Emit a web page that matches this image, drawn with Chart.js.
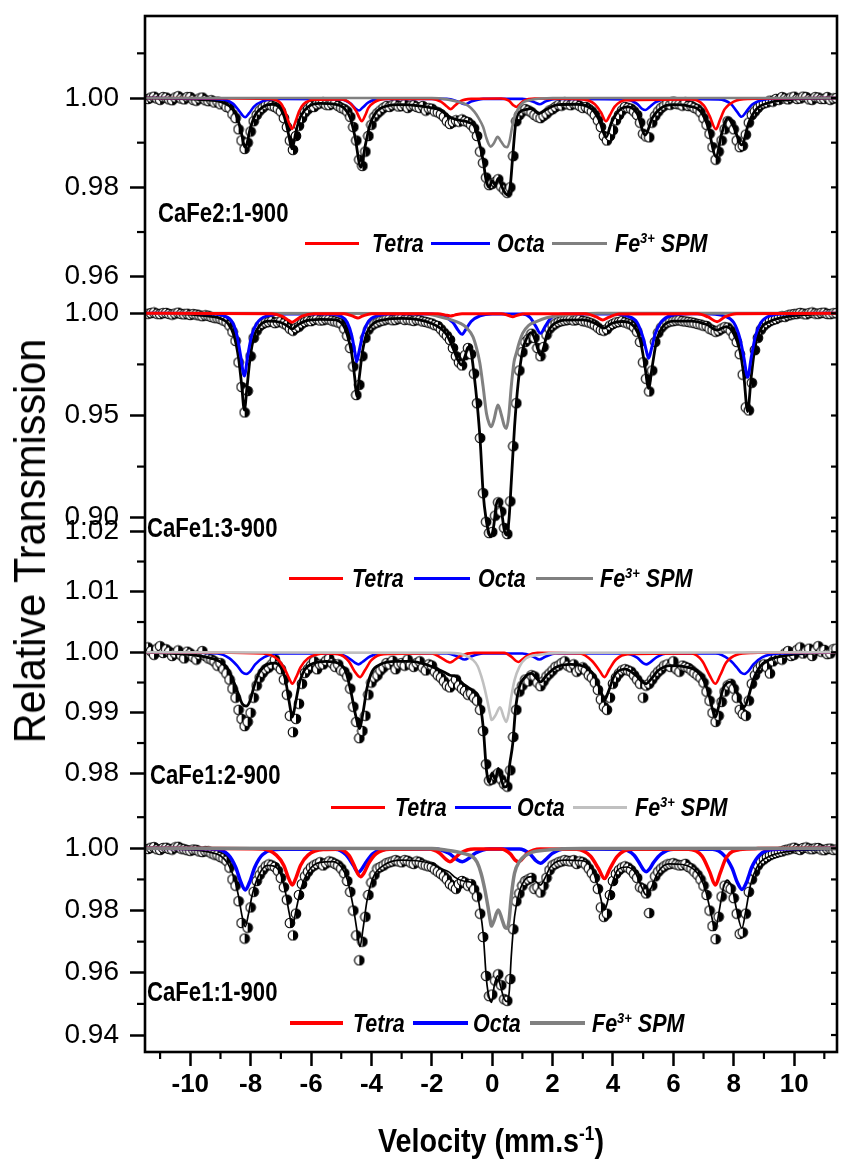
<!DOCTYPE html>
<html><head><meta charset="utf-8">
<script src="https://cdn.jsdelivr.net/npm/chart.js"></script>
<style>
html,body{margin:0;padding:0;background:#fff;}
#wrap{position:relative;width:843px;height:1169px;overflow:hidden;background:#fff;}
#c{position:absolute;left:0;top:0;}
.t{position:absolute;white-space:nowrap;font-family:'Liberation Sans',Arial,sans-serif;color:#000;line-height:1;}
.lab{font-weight:bold;font-size:27px;transform:scaleX(0.82);transform-origin:0 50%;}
.leg{font-weight:bold;font-style:italic;font-size:25px;transform:scaleX(0.86);transform-origin:0 50%;}
.ln{position:absolute;}
.sp{font-size:0.6em;position:relative;top:-0.6em;}
</style></head>
<body><div id="wrap"><canvas id="c" width="843" height="1169"></canvas></div>
<script>
// ---------------- DATA ----------------
const panelNames = ['CaFe2:1-900','CaFe1:3-900','CaFe1:2-900','CaFe1:1-900'];
const seriesNames = ['Tetra','Octa','Fe<span class="sp">3+</span> SPM'];
const xTicks = [-10,-8,-6,-4,-2,0,2,4,6,8,10];
const xMinorTicks = [-11,-9,-7,-5,-3,-1,1,3,5,7,9,11];
const p1Ticks = [1.00,0.98,0.96];
const p1Minor = [1.01,0.99,0.97];
const p2Ticks = [1.00,0.95,0.90];
const p2Minor = [0.975,0.925];
const p3Ticks = [1.02,1.01,1.00,0.99,0.98];
const p3Minor = [1.015,1.005,0.995,0.985];
const p4Ticks = [1.00,0.98,0.96,0.94];
const p4Minor = [1.01,0.99,0.97,0.95];

// velocity channels (mm/s), rows of 10
const vel = [
-11.4,-11.3,-11.2,-11.1,-11.0,-10.9,-10.8,-10.7,-10.6,-10.5,
-10.4,-10.3,-10.2,-10.1,-10.0,-9.9,-9.8,-9.7,-9.6,-9.5,
-9.4,-9.3,-9.2,-9.1,-9.0,-8.9,-8.8,-8.7,-8.6,-8.5,
-8.4,-8.3,-8.2,-8.1,-8.0,-7.9,-7.8,-7.7,-7.6,-7.5,
-7.4,-7.3,-7.2,-7.1,-7.0,-6.9,-6.8,-6.7,-6.6,-6.5,
-6.4,-6.3,-6.2,-6.1,-6.0,-5.9,-5.8,-5.7,-5.6,-5.5,
-5.4,-5.3,-5.2,-5.1,-5.0,-4.9,-4.8,-4.7,-4.6,-4.5,
-4.4,-4.3,-4.2,-4.1,-4.0,-3.9,-3.8,-3.7,-3.6,-3.5,
-3.4,-3.3,-3.2,-3.1,-3.0,-2.9,-2.8,-2.7,-2.6,-2.5,
-2.4,-2.3,-2.2,-2.1,-2.0,-1.9,-1.8,-1.7,-1.6,-1.5,
-1.4,-1.3,-1.2,-1.1,-1.0,-0.9,-0.8,-0.7,-0.6,-0.5,
-0.4,-0.3,-0.2,-0.1,0.0,0.1,0.2,0.3,0.4,0.5,
0.6,0.7,0.8,0.9,1.0,1.1,1.2,1.3,1.4,1.5,
1.6,1.7,1.8,1.9,2.0,2.1,2.2,2.3,2.4,2.5,
2.6,2.7,2.8,2.9,3.0,3.1,3.2,3.3,3.4,3.5,
3.6,3.7,3.8,3.9,4.0,4.1,4.2,4.3,4.4,4.5,
4.6,4.7,4.8,4.9,5.0,5.1,5.2,5.3,5.4,5.5,
5.6,5.7,5.8,5.9,6.0,6.1,6.2,6.3,6.4,6.5,
6.6,6.7,6.8,6.9,7.0,7.1,7.2,7.3,7.4,7.5,
7.6,7.7,7.8,7.9,8.0,8.1,8.2,8.3,8.4,8.5,
8.6,8.7,8.8,8.9,9.0,9.1,9.2,9.3,9.4,9.5,
9.6,9.7,9.8,9.9,10.0,10.1,10.2,10.3,10.4,10.5,
10.6,10.7,10.8,10.9,11.0,11.1,11.2,11.3,11.4];

// measured relative transmission (same rows as vel)
const p1Data = [
0.9998,1.0001,1.0003,0.9999,0.9996,1.0002,1.0001,0.9997,0.9995,1.0001,
1.0004,0.9999,0.9997,1.0002,1.0002,0.9996,0.9994,0.9999,1.0001,0.9995,
0.9993,0.9995,0.9990,0.9992,0.9986,0.9988,0.9980,0.9978,0.9964,0.9955,
0.9930,0.9905,0.9886,0.9900,0.9925,0.9948,0.9962,0.9972,0.9978,0.9984,
0.9986,0.9983,0.9980,0.9976,0.9970,0.9955,0.9935,0.9905,0.9884,0.9915,
0.9938,0.9955,0.9968,0.9975,0.9982,0.9980,0.9986,0.9988,0.9990,0.9985,
0.9984,0.9987,0.9988,0.9982,0.9978,0.9975,0.9970,0.9958,0.9935,0.9905,
0.9862,0.9848,0.9880,0.9915,0.9940,0.9958,0.9966,0.9972,0.9978,0.9982,
0.9980,0.9984,0.9986,0.9981,0.9982,0.9986,0.9978,0.9983,0.9984,0.9980,
0.9978,0.9982,0.9972,0.9977,0.9976,0.9970,0.9968,0.9964,0.9958,0.9948,
0.9942,0.9946,0.9950,0.9947,0.9952,0.9948,0.9946,0.9940,0.9932,0.9915,
0.9880,0.9855,0.9822,0.9805,0.9808,0.9812,0.9818,0.9802,0.9795,0.9788,
0.9800,0.9870,0.9948,0.9962,0.9970,0.9975,0.9972,0.9968,0.9962,0.9958,
0.9955,0.9960,0.9965,0.9972,0.9975,0.9980,0.9985,0.9983,0.9990,0.9986,
0.9984,0.9988,0.9986,0.9982,0.9978,0.9980,0.9975,0.9970,0.9962,0.9950,
0.9935,0.9915,0.9905,0.9915,0.9928,0.9950,0.9962,0.9972,0.9980,0.9978,
0.9976,0.9970,0.9962,0.9945,0.9920,0.9914,0.9912,0.9945,0.9960,0.9970,
0.9978,0.9983,0.9988,0.9985,0.9992,0.9987,0.9986,0.9983,0.9990,0.9982,
0.9982,0.9978,0.9975,0.9968,0.9955,0.9940,0.9920,0.9890,0.9862,0.9880,
0.9905,0.9930,0.9948,0.9942,0.9930,0.9905,0.9890,0.9893,0.9918,0.9945,
0.9962,0.9970,0.9978,0.9985,0.9988,0.9990,0.9994,0.9992,0.9998,0.9996,
1.0002,0.9999,0.9997,1.0001,1.0003,0.9998,0.9999,1.0003,1.0002,0.9997,
0.9996,1.0002,1.0001,0.9998,0.9998,1.0002,0.9996,0.9999,1.0000];
const p2Data = [
0.9998,1.0001,1.0004,0.9998,0.9996,1.0001,1.0002,0.9997,0.9994,0.9999,
1.0003,0.9997,0.9995,0.9998,0.9992,0.9996,0.9994,0.9990,0.9986,0.9990,
0.9988,0.9982,0.9978,0.9976,0.9972,0.9965,0.9958,0.9940,0.9910,0.9865,
0.9760,0.9640,0.9515,0.9620,0.9790,0.9880,0.9915,0.9938,0.9948,0.9955,
0.9958,0.9962,0.9952,0.9956,0.9960,0.9950,0.9942,0.9925,0.9915,0.9928,
0.9935,0.9950,0.9958,0.9964,0.9962,0.9968,0.9972,0.9965,0.9966,0.9971,
0.9970,0.9964,0.9960,0.9955,0.9950,0.9925,0.9890,0.9830,0.9740,0.9600,
0.9650,0.9790,0.9880,0.9920,0.9940,0.9950,0.9955,0.9962,0.9965,0.9970,
0.9972,0.9966,0.9968,0.9974,0.9975,0.9968,0.9970,0.9966,0.9963,0.9968,
0.9966,0.9960,0.9958,0.9954,0.9950,0.9942,0.9938,0.9922,0.9905,0.9890,
0.9870,0.9830,0.9790,0.9760,0.9745,0.9795,0.9830,0.9800,0.9705,0.9560,
0.9390,0.9120,0.8980,0.8925,0.8930,0.9010,0.9075,0.9030,0.8950,0.8920,
0.9080,0.9350,0.9560,0.9720,0.9810,0.9860,0.9875,0.9900,0.9880,0.9830,
0.9790,0.9835,0.9895,0.9925,0.9940,0.9950,0.9958,0.9962,0.9965,0.9968,
0.9970,0.9965,0.9968,0.9970,0.9962,0.9960,0.9955,0.9950,0.9942,0.9930,
0.9918,0.9915,0.9922,0.9940,0.9948,0.9955,0.9958,0.9962,0.9955,0.9950,
0.9945,0.9932,0.9910,0.9860,0.9760,0.9680,0.9618,0.9720,0.9860,0.9905,
0.9930,0.9945,0.9955,0.9960,0.9962,0.9965,0.9966,0.9962,0.9960,0.9958,
0.9955,0.9952,0.9948,0.9945,0.9940,0.9938,0.9925,0.9918,0.9910,0.9915,
0.9925,0.9932,0.9930,0.9915,0.9890,0.9860,0.9800,0.9700,0.9540,0.9525,
0.9660,0.9820,0.9880,0.9920,0.9940,0.9952,0.9962,0.9968,0.9972,0.9980,
0.9985,0.9983,0.9990,0.9994,0.9996,0.9998,1.0002,0.9999,0.9995,1.0001,
1.0004,0.9999,0.9998,1.0002,1.0003,0.9997,0.9996,1.0000,1.0001];
const p3Data = [
1.0008,1.0002,0.9996,1.0006,1.0010,0.9999,1.0005,1.0001,0.9994,0.9998,
1.0003,0.9995,0.9990,1.0001,0.9998,0.9992,0.9988,0.9996,1.0002,0.9994,
0.9990,0.9988,0.9985,0.9978,0.9982,0.9972,0.9965,0.9955,0.9940,0.9925,
0.9905,0.9890,0.9878,0.9885,0.9900,0.9925,0.9945,0.9958,0.9966,0.9972,
0.9975,0.9980,0.9988,0.9978,0.9972,0.9955,0.9930,0.9895,0.9868,0.9890,
0.9915,0.9948,0.9966,0.9972,0.9978,0.9985,0.9972,0.9980,0.9980,0.9986,
0.9990,0.9982,0.9976,0.9980,0.9970,0.9968,0.9960,0.9940,0.9910,0.9885,
0.9858,0.9870,0.9895,0.9930,0.9950,0.9958,0.9962,0.9970,0.9975,0.9982,
0.9980,0.9986,0.9972,0.9980,0.9982,0.9978,0.9988,0.9980,0.9976,0.9982,
0.9985,0.9975,0.9970,0.9980,0.9978,0.9968,0.9962,0.9958,0.9952,0.9945,
0.9942,0.9948,0.9955,0.9945,0.9940,0.9936,0.9930,0.9932,0.9925,0.9920,
0.9905,0.9870,0.9815,0.9788,0.9790,0.9796,0.9800,0.9790,0.9782,0.9778,
0.9805,0.9860,0.9905,0.9935,0.9945,0.9955,0.9952,0.9962,0.9960,0.9950,
0.9944,0.9952,0.9960,0.9965,0.9970,0.9976,0.9978,0.9982,0.9985,0.9978,
0.9975,0.9980,0.9968,0.9972,0.9975,0.9970,0.9962,0.9958,0.9950,0.9938,
0.9922,0.9910,0.9905,0.9925,0.9948,0.9958,0.9965,0.9970,0.9972,0.9970,
0.9968,0.9962,0.9955,0.9948,0.9925,0.9945,0.9948,0.9955,0.9962,0.9968,
0.9972,0.9978,0.9980,0.9976,0.9985,0.9972,0.9968,0.9978,0.9976,0.9974,
0.9970,0.9966,0.9962,0.9958,0.9950,0.9935,0.9920,0.9900,0.9885,0.9895,
0.9918,0.9935,0.9945,0.9948,0.9940,0.9925,0.9905,0.9898,0.9895,0.9920,
0.9948,0.9962,0.9972,0.9978,0.9980,0.9975,0.9965,0.9985,0.9992,0.9990,
0.9988,0.9998,1.0002,0.9994,0.9996,1.0004,1.0008,0.9998,1.0002,1.0006,
0.9994,1.0003,1.0010,1.0001,1.0004,0.9997,0.9998,1.0005,1.0006];
const p4Data = [
0.9998,1.0002,1.0004,0.9997,0.9995,1.0001,1.0002,0.9998,0.9996,1.0003,
1.0005,0.9999,0.9997,0.9994,0.9992,0.9996,0.9995,0.9990,0.9988,0.9991,
0.9990,0.9984,0.9980,0.9978,0.9972,0.9968,0.9960,0.9938,0.9900,0.9880,
0.9830,0.9760,0.9710,0.9745,0.9810,0.9860,0.9895,0.9915,0.9930,0.9942,
0.9948,0.9945,0.9940,0.9928,0.9905,0.9875,0.9835,0.9760,0.9720,0.9790,
0.9850,0.9885,0.9910,0.9925,0.9938,0.9945,0.9950,0.9955,0.9945,0.9952,
0.9958,0.9955,0.9950,0.9945,0.9935,0.9920,0.9895,0.9860,0.9800,0.9720,
0.9640,0.9700,0.9780,0.9850,0.9890,0.9915,0.9935,0.9940,0.9945,0.9952,
0.9955,0.9958,0.9962,0.9958,0.9955,0.9962,0.9960,0.9954,0.9950,0.9958,
0.9955,0.9948,0.9945,0.9942,0.9940,0.9932,0.9925,0.9918,0.9910,0.9900,
0.9885,0.9878,0.9870,0.9885,0.9895,0.9890,0.9880,0.9885,0.9868,0.9845,
0.9790,0.9715,0.9590,0.9525,0.9530,0.9575,0.9595,0.9560,0.9515,0.9510,
0.9580,0.9740,0.9830,0.9855,0.9880,0.9895,0.9900,0.9905,0.9870,0.9875,
0.9858,0.9880,0.9905,0.9930,0.9945,0.9950,0.9955,0.9958,0.9962,0.9960,
0.9958,0.9962,0.9950,0.9958,0.9955,0.9948,0.9935,0.9920,0.9905,0.9870,
0.9810,0.9780,0.9790,0.9850,0.9895,0.9918,0.9930,0.9938,0.9942,0.9938,
0.9930,0.9918,0.9905,0.9875,0.9870,0.9855,0.9792,0.9880,0.9910,0.9925,
0.9935,0.9942,0.9948,0.9950,0.9952,0.9948,0.9945,0.9946,0.9950,0.9940,
0.9935,0.9925,0.9915,0.9900,0.9880,0.9850,0.9800,0.9750,0.9708,0.9780,
0.9845,0.9880,0.9875,0.9870,0.9840,0.9790,0.9725,0.9730,0.9790,0.9860,
0.9900,0.9925,0.9945,0.9958,0.9965,0.9972,0.9978,0.9982,0.9985,0.9988,
0.9990,0.9994,0.9996,0.9999,1.0002,0.9998,0.9995,1.0001,1.0003,0.9999,
0.9997,1.0000,1.0001,0.9996,0.9994,0.9998,0.9999,0.9995,0.9996];

// fitted curves [velocity, transmission]
const p1Fit = [[-11.5,1.0000],[-10.5,0.9999],[-9.5,0.9996],[-9.0,0.9992],[-8.7,0.9982],[-8.5,0.9965],[-8.35,0.9935],[-8.18,0.9890],[-8.0,0.9935],[-7.85,0.9962],[-7.6,0.9980],[-7.3,0.9986],[-7.0,0.9975],[-6.85,0.9950],[-6.75,0.9920],[-6.63,0.9886],[-6.5,0.9925],[-6.35,0.9958],[-6.1,0.9980],[-5.7,0.9988],[-5.2,0.9986],[-4.9,0.9977],[-4.7,0.9955],[-4.55,0.9915],[-4.35,0.9845],[-4.2,0.9895],[-4.05,0.9940],[-3.85,0.9968],[-3.5,0.9982],[-3.0,0.9985],[-2.5,0.9983],[-2.0,0.9978],[-1.73,0.9973],[-1.34,0.9955],[-1.07,0.9950],[-0.8,0.9946],[-0.6,0.9938],[-0.45,0.9905],[-0.3,0.9860],[-0.2,0.9815],[-0.1,0.9800],[0.0,0.9815],[0.1,0.9805],[0.2,0.9820],[0.3,0.9805],[0.4,0.9790],[0.5,0.9783],[0.6,0.9805],[0.68,0.9870],[0.78,0.9945],[0.9,0.9968],[1.1,0.9974],[1.3,0.9976],[1.55,0.9965],[1.8,0.9975],[2.2,0.9985],[2.8,0.9986],[3.3,0.9975],[3.55,0.9950],[3.77,0.9912],[3.95,0.9945],[4.2,0.9972],[4.5,0.9980],[4.8,0.9965],[5.07,0.9917],[5.3,0.9955],[5.6,0.9978],[6.0,0.9985],[6.5,0.9982],[6.9,0.9970],[7.15,0.9935],[7.41,0.9869],[7.6,0.9920],[7.8,0.9955],[8.0,0.9935],[8.26,0.9895],[8.5,0.9945],[8.75,0.9975],[9.2,0.9990],[9.8,0.9996],[10.5,0.9999],[11.5,1.0000]];
const p1Tetra = [[-11.5,1],[-7.4,0.9998],[-7.0,0.9988],[-6.85,0.9968],[-6.75,0.9948],[-6.63,0.9931],[-6.5,0.9950],[-6.4,0.9970],[-6.25,0.9986],[-5.9,0.9996],[-5.0,0.9997],[-4.7,0.9988],[-4.5,0.9970],[-4.4,0.9956],[-4.32,0.9948],[-4.2,0.9962],[-4.1,0.9978],[-3.9,0.9991],[-3.5,0.9998],[-2.0,0.9998],[-1.7,0.9992],[-1.5,0.9981],[-1.38,0.9975],[-1.25,0.9982],[-1.05,0.9993],[-0.7,0.9998],[0.3,0.9999],[0.55,0.9994],[0.7,0.9984],[0.8,0.9980],[0.9,0.9985],[1.05,0.9994],[1.4,0.9999],[3.0,0.9997],[3.4,0.9986],[3.6,0.9968],[3.77,0.9948],[3.9,0.9962],[4.05,0.9980],[4.4,0.9995],[6.6,0.9997],[7.0,0.9984],[7.2,0.9960],[7.41,0.9930],[7.55,0.9952],[7.7,0.9975],[8.0,0.9992],[8.5,0.9998],[11.5,1]];
const p1Octa = [[-11.5,1],[-9.0,0.9997],[-8.6,0.9988],[-8.4,0.9973],[-8.28,0.9962],[-8.18,0.9957],[-8.05,0.9966],[-7.9,0.9980],[-7.6,0.9993],[-7.0,0.9998],[-5.0,0.9997],[-4.7,0.9988],[-4.52,0.9976],[-4.41,0.9972],[-4.3,0.9978],[-4.1,0.9990],[-3.7,0.9998],[-1.5,0.9998],[-1.1,0.9991],[-0.9,0.9986],[-0.7,0.9992],[-0.3,0.9998],[1.0,0.9998],[1.38,0.9991],[1.57,0.9986],[1.76,0.9992],[2.1,0.9998],[4.4,0.9997],[4.8,0.9987],[4.96,0.9976],[5.07,0.9973],[5.2,0.9979],[5.4,0.9990],[5.8,0.9998],[7.5,0.9997],[7.9,0.9987],[8.1,0.9970],[8.26,0.9958],[8.4,0.9968],[8.6,0.9985],[9.0,0.9996],[9.6,0.9999],[11.5,1]];
const p1Spm = [[-11.5,1],[-2.0,1],[-1.5,0.9997],[-1.17,0.9992],[-0.8,0.9983],[-0.6,0.9970],[-0.45,0.9955],[-0.3,0.9935],[-0.2,0.9912],[-0.12,0.9897],[-0.05,0.9891],[0.05,0.9898],[0.18,0.9913],[0.3,0.9902],[0.42,0.9891],[0.5,0.9890],[0.58,0.9905],[0.66,0.9935],[0.74,0.9957],[0.85,0.9975],[1.0,0.9989],[1.3,0.9996],[2.0,1],[11.5,1]];

const p2Fit = [[-11.5,1.0000],[-10.5,0.9998],[-9.8,0.9993],[-9.3,0.9985],[-9.0,0.9975],[-8.75,0.9950],[-8.55,0.9890],[-8.4,0.9780],[-8.3,0.9650],[-8.21,0.9527],[-8.12,0.9640],[-8.02,0.9780],[-7.9,0.9880],[-7.7,0.9940],[-7.4,0.9962],[-7.0,0.9955],[-6.8,0.9940],[-6.63,0.9923],[-6.45,0.9942],[-6.2,0.9962],[-5.7,0.9970],[-5.2,0.9968],[-4.95,0.9945],[-4.8,0.9895],[-4.65,0.9800],[-4.55,0.9680],[-4.49,0.9596],[-4.4,0.9690],[-4.3,0.9810],[-4.15,0.9905],[-3.95,0.9948],[-3.5,0.9970],[-3.0,0.9975],[-2.5,0.9970],[-2.0,0.9950],[-1.7,0.9925],[-1.5,0.9894],[-1.3,0.9830],[-1.15,0.9775],[-1.02,0.9747],[-0.9,0.9790],[-0.8,0.9835],[-0.7,0.9810],[-0.6,0.9700],[-0.5,0.9560],[-0.4,0.9380],[-0.3,0.9120],[-0.2,0.8990],[-0.1,0.8920],[-0.04,0.8907],[0.05,0.8960],[0.13,0.9060],[0.21,0.9090],[0.3,0.9040],[0.4,0.8940],[0.48,0.8915],[0.56,0.9000],[0.63,0.9170],[0.74,0.9445],[0.86,0.9660],[1.01,0.9820],[1.15,0.9880],[1.29,0.9905],[1.42,0.9870],[1.52,0.9820],[1.6,0.9796],[1.7,0.9830],[1.82,0.9900],[1.95,0.9935],[2.4,0.9967],[3.0,0.9968],[3.4,0.9952],[3.7,0.9927],[3.95,0.9950],[4.3,0.9960],[4.7,0.9935],[4.9,0.9870],[5.05,0.9750],[5.18,0.9633],[5.3,0.9740],[5.45,0.9870],[5.65,0.9935],[6.0,0.9962],[6.6,0.9962],[7.1,0.9945],[7.45,0.9918],[7.75,0.9935],[8.0,0.9900],[8.2,0.9820],[8.33,0.9700],[8.46,0.9519],[8.58,0.9690],[8.7,0.9830],[8.9,0.9925],[9.2,0.9960],[9.7,0.9982],[10.4,0.9994],[11.5,1.0000]];
const p2Tetra = [[-11.5,1],[-7.3,0.9998],[-6.95,0.9985],[-6.75,0.9966],[-6.63,0.9956],[-6.5,0.9967],[-6.3,0.9986],[-5.9,0.9998],[-4.9,0.9998],[-4.6,0.9985],[-4.45,0.9977],[-4.3,0.9986],[-4.0,0.9998],[-1.8,0.9998],[-1.5,0.9990],[-1.38,0.9987],[-1.25,0.9991],[-1.0,0.9998],[0.3,0.9998],[0.55,0.9989],[0.68,0.9983],[0.82,0.9990],[1.1,0.9998],[3.1,0.9998],[3.45,0.9982],[3.66,0.9967],[3.85,0.9980],[4.2,0.9997],[6.8,0.9998],[7.15,0.9982],[7.45,0.9959],[7.7,0.9982],[8.1,0.9998],[11.5,1]];
const p2Octa = [[-11.5,1],[-9.3,0.9998],[-8.9,0.9988],[-8.6,0.9955],[-8.45,0.9890],[-8.33,0.9790],[-8.21,0.9693],[-8.1,0.9790],[-7.97,0.9890],[-7.8,0.9950],[-7.5,0.9985],[-6.8,0.9997],[-5.5,0.9997],[-5.0,0.9985],[-4.8,0.9955],[-4.65,0.9890],[-4.55,0.9810],[-4.49,0.9763],[-4.4,0.9820],[-4.28,0.9900],[-4.1,0.9960],[-3.8,0.9988],[-3.2,0.9998],[-2.0,0.9997],[-1.6,0.9985],[-1.3,0.9955],[-1.12,0.9915],[-1.0,0.9897],[-0.88,0.9920],[-0.7,0.9960],[-0.4,0.9988],[0.0,0.9997],[1.0,0.9996],[1.25,0.9980],[1.45,0.9935],[1.6,0.9902],[1.75,0.9935],[1.95,0.9978],[2.4,0.9996],[4.0,0.9997],[4.5,0.9985],[4.8,0.9955],[5.0,0.9880],[5.1,0.9820],[5.18,0.9780],[5.28,0.9830],[5.4,0.9900],[5.6,0.9958],[5.9,0.9988],[6.6,0.9998],[7.2,0.9997],[7.7,0.9986],[8.0,0.9955],[8.2,0.9880],[8.34,0.9780],[8.46,0.9687],[8.58,0.9785],[8.72,0.9890],[8.9,0.9955],[9.2,0.9988],[9.8,0.9998],[11.5,1]];
const p2Spm = [[-11.5,1],[-2.3,0.9999],[-1.74,0.9983],[-1.4,0.9970],[-1.07,0.9952],[-0.85,0.9930],[-0.64,0.9886],[-0.52,0.9830],[-0.41,0.9757],[-0.3,0.9640],[-0.19,0.9510],[-0.1,0.9460],[-0.03,0.9445],[0.06,0.9480],[0.19,0.9551],[0.3,0.9505],[0.4,0.9450],[0.47,0.9437],[0.55,0.9500],[0.63,0.9640],[0.72,0.9760],[0.8,0.9806],[0.9,0.9860],[1.01,0.9903],[1.2,0.9940],[1.46,0.9959],[1.8,0.9978],[2.12,0.9987],[2.8,0.9996],[3.5,1],[11.5,1]];

const p3Fit = [[-11.5,1.0000],[-10.5,0.9998],[-9.8,0.9995],[-9.3,0.9990],[-9.0,0.9984],[-8.75,0.9972],[-8.55,0.9950],[-8.4,0.9930],[-8.28,0.9915],[-8.15,0.9911],[-8.02,0.9920],[-7.88,0.9945],[-7.7,0.9968],[-7.45,0.9980],[-7.2,0.9982],[-7.0,0.9975],[-6.85,0.9955],[-6.73,0.9920],[-6.62,0.9893],[-6.5,0.9920],[-6.38,0.9950],[-6.2,0.9972],[-5.9,0.9982],[-5.5,0.9985],[-5.1,0.9982],[-4.85,0.9968],[-4.68,0.9935],[-4.52,0.9895],[-4.4,0.9874],[-4.28,0.9900],[-4.15,0.9940],[-3.98,0.9968],[-3.7,0.9980],[-3.2,0.9985],[-2.7,0.9985],[-2.2,0.9980],[-1.8,0.9972],[-1.55,0.9966],[-1.4,0.9962],[-1.2,0.9960],[-1.0,0.9949],[-0.8,0.9942],[-0.6,0.9935],[-0.45,0.9926],[-0.3,0.9877],[-0.19,0.9805],[-0.1,0.9785],[0.0,0.9800],[0.1,0.9790],[0.2,0.9808],[0.3,0.9790],[0.4,0.9777],[0.5,0.9780],[0.58,0.9815],[0.68,0.9849],[0.78,0.9910],[0.9,0.9943],[1.05,0.9957],[1.3,0.9965],[1.45,0.9958],[1.6,0.9951],[1.8,0.9962],[2.1,0.9975],[2.6,0.9980],[3.1,0.9975],[3.4,0.9960],[3.6,0.9935],[3.72,0.9921],[3.85,0.9935],[4.05,0.9962],[4.4,0.9972],[4.75,0.9962],[4.95,0.9952],[5.1,0.9948],[5.25,0.9955],[5.5,0.9970],[5.9,0.9978],[6.4,0.9976],[6.9,0.9962],[7.15,0.9935],[7.3,0.9905],[7.39,0.9893],[7.5,0.9910],[7.65,0.9940],[7.9,0.9951],[8.1,0.9935],[8.25,0.9915],[8.35,0.9910],[8.48,0.9925],[8.65,0.9955],[8.9,0.9978],[9.3,0.9990],[9.9,0.9996],[10.8,0.9999],[11.5,1.0000]];
const p3Tetra = [[-11.5,1],[-7.6,0.9998],[-7.1,0.9988],[-6.85,0.9970],[-6.72,0.9956],[-6.62,0.9948],[-6.5,0.9958],[-6.35,0.9975],[-6.1,0.9990],[-5.5,0.9998],[-5.1,0.9997],[-4.75,0.9985],[-4.55,0.9968],[-4.38,0.9959],[-4.22,0.9970],[-4.0,0.9987],[-3.6,0.9997],[-2.0,0.9998],[-1.7,0.9991],[-1.5,0.9985],[-1.4,0.9983],[-1.28,0.9986],[-1.05,0.9994],[-0.6,0.9999],[0.4,0.9999],[0.65,0.9992],[0.78,0.9986],[0.87,0.9984],[0.97,0.9987],[1.15,0.9994],[1.5,0.9999],[2.9,0.9998],[3.3,0.9986],[3.55,0.9970],[3.72,0.9959],[3.88,0.9972],[4.1,0.9988],[4.5,0.9997],[6.6,0.9998],[6.95,0.9986],[7.2,0.9962],[7.39,0.9948],[7.55,0.9962],[7.75,0.9983],[8.1,0.9996],[8.6,0.9999],[11.5,1]];
const p3Octa = [[-11.5,1],[-9.1,0.9998],[-8.7,0.9990],[-8.45,0.9978],[-8.28,0.9967],[-8.15,0.9964],[-8.02,0.9968],[-7.85,0.9980],[-7.55,0.9992],[-7.0,0.9998],[-5.2,0.9998],[-4.8,0.9992],[-4.55,0.9983],[-4.43,0.9980],[-4.3,0.9984],[-4.05,0.9993],[-3.7,0.9998],[-1.5,0.9998],[-1.15,0.9993],[-0.91,0.9988],[-0.7,0.9993],[-0.3,0.9998],[1.0,0.9998],[1.35,0.9993],[1.56,0.9988],[1.77,0.9993],[2.1,0.9998],[4.4,0.9998],[4.8,0.9991],[5.0,0.9982],[5.1,0.9980],[5.22,0.9983],[5.45,0.9992],[5.8,0.9998],[7.4,0.9998],[7.85,0.9988],[8.1,0.9975],[8.25,0.9966],[8.35,0.9964],[8.47,0.9968],[8.65,0.9980],[8.95,0.9992],[9.5,0.9998],[11.5,1]];
const p3Spm = [[-11.5,1],[-1.4,0.9999],[-0.95,0.9996],[-0.63,0.9987],[-0.48,0.9977],[-0.36,0.9960],[-0.25,0.9940],[-0.14,0.9915],[-0.06,0.9895],[-0.02,0.9888],[0.1,0.9895],[0.26,0.9909],[0.38,0.9893],[0.47,0.9885],[0.55,0.9900],[0.63,0.9926],[0.74,0.9954],[0.9,0.9976],[1.12,0.9990],[1.56,0.9996],[2.2,0.9999],[11.5,1]];

const p4Fit = [[-11.5,1.0000],[-10.5,0.9998],[-9.8,0.9994],[-9.3,0.9986],[-9.0,0.9976],[-8.75,0.9950],[-8.55,0.9905],[-8.4,0.9845],[-8.28,0.9780],[-8.18,0.9748],[-8.07,0.9790],[-7.95,0.9850],[-7.75,0.9910],[-7.45,0.9945],[-7.2,0.9942],[-7.0,0.9915],[-6.85,0.9860],[-6.72,0.9790],[-6.62,0.9748],[-6.5,0.9800],[-6.35,0.9865],[-6.1,0.9925],[-5.7,0.9955],[-5.3,0.9957],[-5.0,0.9940],[-4.8,0.9900],[-4.6,0.9810],[-4.47,0.9730],[-4.38,0.9684],[-4.28,0.9740],[-4.15,0.9830],[-3.95,0.9905],[-3.6,0.9945],[-3.0,0.9962],[-2.5,0.9960],[-2.0,0.9950],[-1.7,0.9935],[-1.45,0.9925],[-1.2,0.9905],[-0.95,0.9895],[-0.64,0.9888],[-0.5,0.9860],[-0.42,0.9812],[-0.3,0.9727],[-0.19,0.9577],[-0.1,0.9520],[-0.02,0.9505],[0.07,0.9560],[0.18,0.9590],[0.28,0.9555],[0.4,0.9515],[0.5,0.9507],[0.57,0.9545],[0.63,0.9651],[0.74,0.9780],[0.9,0.9860],[1.12,0.9903],[1.29,0.9909],[1.45,0.9893],[1.6,0.9882],[1.75,0.9905],[1.93,0.9941],[2.42,0.9962],[3.0,0.9960],[3.3,0.9935],[3.5,0.9880],[3.72,0.9802],[3.92,0.9870],[4.15,0.9930],[4.45,0.9940],[4.75,0.9920],[4.95,0.9875],[5.1,0.9850],[5.25,0.9870],[5.5,0.9925],[5.85,0.9950],[6.3,0.9948],[6.8,0.9920],[7.05,0.9870],[7.25,0.9790],[7.39,0.9737],[7.52,0.9800],[7.65,0.9870],[7.78,0.9898],[7.95,0.9870],[8.1,0.9800],[8.27,0.9743],[8.4,0.9800],[8.55,0.9880],[8.8,0.9945],[9.2,0.9975],[9.8,0.9990],[10.6,0.9995],[11.5,0.9997]];
const p4Tetra = [[-11.5,1],[-7.6,0.9998],[-7.15,0.9978],[-6.9,0.9945],[-6.75,0.9905],[-6.62,0.9882],[-6.5,0.9905],[-6.35,0.9945],[-6.1,0.9978],[-5.6,0.9996],[-5.1,0.9997],[-4.75,0.9978],[-4.55,0.9940],[-4.45,0.9918],[-4.36,0.9909],[-4.25,0.9920],[-4.1,0.9950],[-3.85,0.9982],[-3.4,0.9997],[-2.1,0.9998],[-1.75,0.9985],[-1.55,0.9966],[-1.4,0.9957],[-1.25,0.9967],[-1.05,0.9985],[-0.6,0.9998],[0.3,0.9998],[0.6,0.9982],[0.76,0.9962],[0.87,0.9957],[0.98,0.9964],[1.15,0.9983],[1.6,0.9998],[2.8,0.9997],[3.25,0.9975],[3.52,0.9935],[3.72,0.9903],[3.9,0.9935],[4.15,0.9975],[4.6,0.9997],[6.5,0.9997],[6.95,0.9975],[7.2,0.9925],[7.39,0.9882],[7.55,0.9920],[7.75,0.9970],[8.2,0.9996],[8.8,0.9999],[11.5,1]];
const p4Octa = [[-11.5,1],[-9.2,0.9998],[-8.75,0.9980],[-8.5,0.9940],[-8.32,0.9890],[-8.18,0.9866],[-8.04,0.9890],[-7.86,0.9940],[-7.6,0.9980],[-7.0,0.9997],[-5.2,0.9997],[-4.85,0.9980],[-4.6,0.9945],[-4.5,0.9928],[-4.43,0.9922],[-4.33,0.9932],[-4.18,0.9955],[-3.95,0.9983],[-3.5,0.9997],[-1.9,0.9998],[-1.45,0.9985],[-1.18,0.9965],[-0.99,0.9957],[-0.8,0.9966],[-0.55,0.9985],[-0.1,0.9998],[0.9,0.9998],[1.25,0.9982],[1.45,0.9960],[1.6,0.9952],[1.75,0.9962],[1.98,0.9983],[2.4,0.9998],[4.3,0.9997],[4.7,0.9978],[4.92,0.9945],[5.02,0.9930],[5.1,0.9925],[5.2,0.9932],[5.35,0.9955],[5.6,0.9982],[6.0,0.9997],[7.3,0.9997],[7.7,0.9975],[7.95,0.9935],[8.12,0.9890],[8.27,0.9868],[8.42,0.9890],[8.6,0.9940],[8.85,0.9978],[9.3,0.9996],[11.5,1]];
const p4Spm = [[-11.5,1],[-2.0,0.9999],[-1.5,0.9994],[-1.18,0.9989],[-0.9,0.9982],[-0.65,0.9973],[-0.5,0.9955],[-0.37,0.9920],[-0.25,0.9870],[-0.14,0.9812],[-0.07,0.9770],[-0.03,0.9750],[0.05,0.9765],[0.2,0.9802],[0.33,0.9770],[0.43,0.9745],[0.5,0.9743],[0.56,0.9770],[0.63,0.9844],[0.74,0.9920],[0.9,0.9957],[1.23,0.9984],[1.9,0.9995],[3.0,0.9999],[11.5,1]];

// ---------------- STYLE / LAYOUT ----------------
const RED = '#ff0000', BLUE = '#0000ff', GRAY = '#808080', LGRAY = '#c0c0c0';
const panels = [
  {id:'y1', range:[0.78646,1.018355], ticks:p1Ticks, minor:p1Minor, data:p1Data, fit:p1Fit, tetra:p1Tetra, octa:p1Octa, spm:p1Spm, spmColor:GRAY, fitW:2.8, compW:2.6, redTop:false},
  {id:'y2', range:[0.63860,1.14545], ticks:p2Ticks, minor:p2Minor, data:p2Data, fit:p2Fit, tetra:p2Tetra, octa:p2Octa, spm:p2Spm, spmColor:GRAY, fitW:2.8, compW:3, redTop:true},
  {id:'y3', range:[0.93393,1.10517], ticks:p3Ticks, minor:p3Minor, data:p3Data, fit:p3Fit, tetra:p3Tetra, octa:p3Octa, spm:p3Spm, spmColor:LGRAY, fitW:2.8, compW:2.6, redTop:false},
  {id:'y4', range:[0.93454,1.26748], ticks:p4Ticks, minor:p4Minor, data:p4Data, fit:p4Fit, tetra:p4Tetra, octa:p4Octa, spm:p4Spm, spmColor:GRAY, fitW:1.7, compW:3.5, redTop:false}
];

function makeMarker(){
  const c = document.createElement('canvas'); c.width = 12; c.height = 12;
  const g = c.getContext('2d'); const r = 4.8;
  g.beginPath(); g.arc(6,6,r,0,Math.PI*2); g.fillStyle='#fff'; g.fill();
  g.beginPath(); g.moveTo(6,6); g.arc(6,6,r,-Math.PI/2,Math.PI/2); g.closePath(); g.fillStyle='#000'; g.fill();
  g.beginPath(); g.arc(6,6,r,0,Math.PI*2); g.lineWidth=1.1; g.strokeStyle='#000'; g.stroke();
  return c;
}
const marker = makeMarker();
const pairs = arr => arr.map(p => ({x:p[0], y:p[1]}));
const lineDs = (arr, axis, color, w, order) => ({type:'line', data:pairs(arr), yAxisID:axis, borderColor:color, borderWidth:w, pointRadius:0, fill:false, cubicInterpolationMode:'monotone', borderJoinStyle:'round', order});

const datasets = [];
panels.forEach(p => {
  datasets.push({type:'line', data:vel.map((v,i)=>({x:v,y:p.data[i]})), yAxisID:p.id, showLine:false, pointStyle:marker, pointRadius:5, order:10});
  datasets.push(lineDs(p.fit, p.id, '#000', p.fitW, 6));
  datasets.push(lineDs(p.octa, p.id, BLUE, p.compW, 4));
  datasets.push(lineDs(p.tetra, p.id, RED, p.compW, p.redTop ? 1 : 3));
  datasets.push(lineDs(p.spm, p.id, p.spmColor, p.compW, 2));
});

const FONT = "'Liberation Sans', Arial, sans-serif";
const YFONT = 28;
const scales = {
  x: {type:'linear', position:'bottom', min:-11.5, max:11.42,
    afterBuildTicks: s => { s.ticks = xTicks.map(v => ({value:v})); },
    afterFit: s => { s.height = 117; s.paddingLeft = 0; s.paddingRight = 0; s.paddingTop = 0; s.paddingBottom = 0; },
    grid: {drawOnChartArea:false, tickLength:14, tickWidth:2.5, tickColor:'#000'},
    border: {display:false},
    ticks: {autoSkip:false, maxRotation:0, minRotation:0, padding:3, color:'#000',
      font:{family:"'Liberation Sans Narrow','Liberation Sans',Arial,sans-serif", size:26, weight:'bold'},
      callback: v => String(v)}
  }
};
panels.forEach(p => {
  scales[p.id] = {type:'linear', position:'left', min:p.range[0], max:p.range[1],
    afterBuildTicks: s => { s.ticks = p.ticks.map(v => ({value:v})); },
    afterFit: s => { s.width = 0; s.paddingTop = 0; s.paddingBottom = 0; s.paddingLeft = 0; s.paddingRight = 0; },
    grid: {drawOnChartArea:false, tickLength:15, tickWidth:2.5, tickColor:'#000'},
    border: {display:false},
    // mirrored labels are not clipped to the (zero-width) axis box; 'far' aligns their right edge
    ticks: {autoSkip:false, mirror:true, crossAlign:'far', padding:-(26 + 1.946*YFONT), color:'#000',
      font:{family:FONT, size:YFONT}, callback: v => Number(v).toFixed(2)}
  };
});

const framePlugin = {
  id:'frame',
  afterDraw(chart){
    const {ctx, chartArea:a} = chart;
    const seg = (x1,y1,x2,y2) => { ctx.beginPath(); ctx.moveTo(x1,y1); ctx.lineTo(x2,y2); ctx.stroke(); };
    ctx.save();
    ctx.strokeStyle = '#000';
    ctx.lineWidth = 2.2;
    panels.forEach(p => {
      const s = chart.scales[p.id];
      p.minor.forEach(v => { const y = s.getPixelForValue(v); seg(a.left-8, y, a.left, y); });
      p.ticks.concat(p.minor).forEach(v => { const y = s.getPixelForValue(v); seg(a.right-6, y, a.right, y); });
    });
    xMinorTicks.forEach(v => { const x = chart.scales.x.getPixelForValue(v); seg(x, a.bottom, x, a.bottom+7); });
    ctx.lineWidth = 2.6;
    ctx.strokeRect(a.left, a.top, a.right-a.left, a.bottom-a.top);
    ctx.restore();
  }
};

new Chart(document.getElementById('c'), {
  type:'line',
  data:{datasets},
  options:{responsive:false, animation:false, devicePixelRatio:1,
    layout:{padding:{left:145, right:5, top:16, bottom:0}},
    plugins:{legend:{display:false}, tooltip:{enabled:false}},
    scales
  },
  plugins:[framePlugin]
});

// ---------------- TEXT ----------------
const wrap = document.getElementById('wrap');
function addText(html, cls, x, cy, fs){
  const d = document.createElement('div');
  d.className = 't ' + cls; d.innerHTML = html;
  d.style.left = x + 'px'; d.style.top = (cy - 0.49*fs) + 'px';
  wrap.appendChild(d); return d;
}
function addLine(x1, x2, cy, color, h){
  const d = document.createElement('div'); d.className = 'ln';
  d.style.left = x1 + 'px'; d.style.width = (x2-x1) + 'px';
  d.style.top = (cy - h/2) + 'px'; d.style.height = h + 'px'; d.style.background = color;
  wrap.appendChild(d);
}
const labelPos = [[158,213],[147,528],[150,775],[147,992]];
panelNames.forEach((n,i) => addText(n, 'lab', labelPos[i][0], labelPos[i][1], 27));

const legendPos = [
  {y:243, red:[305,359], tetra:372, blue:[431,490], octa:497, gray:[552,607], fe:615, h:3},
  {y:578, red:[289,343], tetra:352, blue:[414,470], octa:478, gray:[536,593], fe:600, h:3},
  {y:807, red:[331,385], tetra:395, blue:[455,511], octa:517, gray:[573,627], fe:635, h:3},
  {y:1023, red:[290,343], tetra:353, blue:[413,468], octa:473, gray:[530,585], fe:592, h:4}
];
legendPos.forEach((L,i) => {
  addLine(L.red[0], L.red[1], L.y, RED, L.h);
  addText(seriesNames[0], 'leg', L.tetra, L.y, 25);
  addLine(L.blue[0], L.blue[1], L.y, BLUE, L.h);
  addText(seriesNames[1], 'leg', L.octa, L.y, 25);
  addLine(L.gray[0], L.gray[1], L.y, panels[i].spmColor, L.h);
  addText(seriesNames[2], 'leg', L.fe, L.y, 25);
});

// axis titles
const xt = document.createElement('div');
xt.className = 't';
xt.innerHTML = 'Velocity (mm.s<span class="sp">-1</span>)';
xt.style.cssText += 'font-weight:bold;font-size:33px;left:491px;top:1124px;transform:translateX(-50%) scaleX(0.87);';
wrap.appendChild(xt);
const yt = document.createElement('div');
yt.className = 't';
yt.textContent = 'Relative Transmission';
yt.style.cssText += 'font-size:44px;left:30px;top:541px;transform:translate(-50%,-50%) rotate(-90deg) scaleX(0.94);';
wrap.appendChild(yt);
</script></body></html>
